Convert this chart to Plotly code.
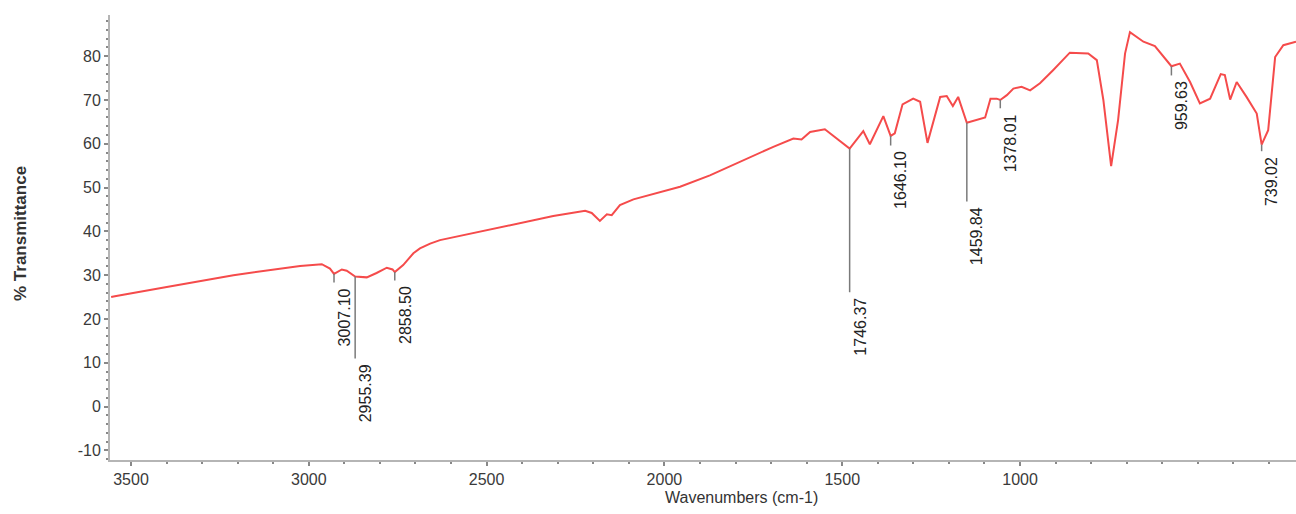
import plotly.graph_objects as go

# Spectrum (wavenumber cm-1, %T)
wavenumber = [3552, 3543, 3416, 3253, 3090, 3037, 3017, 3007.10, 2988, 2976, 2955.39, 2927, 2903,
              2878, 2864, 2858.50, 2838, 2813, 2797, 2772, 2748, 2634, 2552, 2471, 2393, 2377,
              2357, 2340, 2328, 2308, 2275, 2161, 2088, 2014, 1990, 1933, 1884, 1864, 1843,
              1807, 1746.37, 1713, 1697, 1664, 1646.10, 1636, 1617, 1591, 1574, 1556, 1525,
              1509, 1494, 1481, 1459.84, 1436, 1415, 1402, 1387, 1378.01, 1362, 1346, 1326,
              1305, 1281, 1249, 1208, 1163, 1142, 1126, 1107, 1090, 1073, 1061, 1028, 1000,
              979, 959.63, 939, 914, 890, 865, 839, 829, 816, 800, 776, 751, 739.02, 723,
              706, 686, 655]
transmittance = [25.0, 25.2, 27.3, 30.0, 32.1, 32.5, 31.5, 30.3, 31.3, 31.0, 29.7, 29.5, 30.5,
                 31.7, 31.3, 30.7, 32.3, 35.0, 36.1, 37.2, 38.0, 40.3, 41.9, 43.5, 44.7, 44.2,
                 42.4, 43.9, 43.7, 46.0, 47.3, 50.2, 52.8, 55.9, 57.0, 59.3, 61.2, 61.0, 62.7,
                 63.3, 58.9, 62.9, 59.9, 66.3, 61.8, 62.4, 69.0, 70.3, 69.6, 60.2, 70.7,
                 70.9, 68.6, 70.7, 64.8, 65.4, 66.0, 70.3, 70.3, 70.0, 71.1, 72.6, 73.0,
                 72.2, 73.8, 76.8, 80.8, 80.6, 79.1, 70.0, 54.9, 65.4, 80.6, 85.5, 83.3, 82.3,
                 79.8, 77.7, 78.3, 74.1, 69.2, 70.3, 75.9, 75.7, 70.1, 74.1, 70.7, 66.9, 59.8, 63.1,
                 79.8, 82.5, 83.3]

# Peak labels
peak_wn = [3007.10, 2955.39, 2858.50, 1746.37, 1646.10, 1459.84, 1378.01, 959.63, 739.02]
peak_labels = ["3007.10", "2955.39", "2858.50", "1746.37", "1646.10", "1459.84", "1378.01", "959.63", "739.02"]
peak_top = [30.3, 29.7, 30.7, 58.9, 61.8, 64.8, 70.0, 77.7, 59.8]
label_y = [27.9, 10.6, 28.4, 25.7, 59.2, 46.4, 67.7, 75.2, 57.9]

# Axis ticks
x_ticks = [3500, 3000, 2500, 2000, 1500, 1000]
y_ticks = [-10, 0, 10, 20, 30, 40, 50, 60, 70, 80]

FONT = "Liberation Sans, Arial, sans-serif"

# plot-area pixel box
L, R, T, B = 110, 1296, 15, 460
W, H = 1296, 514

def px_to_paper(px, py):
    return (px - L) / (R - L), (B - py) / (B - T)

fig = go.Figure()

# empty trace to activate the visible axis pair
fig.add_trace(go.Scatter(x=[None], y=[None], xaxis="x", yaxis="y", mode="markers",
                         hoverinfo="skip", showlegend=False))

fig.add_trace(go.Scatter(
    x=wavenumber, y=transmittance, mode="lines", xaxis="x2", yaxis="y",
    line=dict(color="rgb(245,75,75)", width=2), hoverinfo="skip", showlegend=False))

lx, ly = [], []
for w, t, b in zip(peak_wn, peak_top, label_y):
    lx += [w, w, None]
    ly += [t, b + 0.4, None]
fig.add_trace(go.Scatter(
    x=lx, y=ly, mode="lines", xaxis="x2", yaxis="y",
    line=dict(color="#7a7a7a", width=1.5), hoverinfo="skip", showlegend=False))

for w, b, lab in zip(peak_wn, label_y, peak_labels):
    fig.add_annotation(
        x=w, y=b, xref="x2", yref="y", text=lab, showarrow=False,
        textangle=-90, xanchor="center", yanchor="top", xshift=10, yshift=-2,
        font=dict(family=FONT, size=16, color="#222222"))

tx, ty = px_to_paper(20, 234)
fig.add_annotation(
    x=tx, y=ty, xref="paper", yref="paper", text="<b>% Transmittance</b>", showarrow=False,
    textangle=-90, xanchor="center", yanchor="middle",
    font=dict(family=FONT, size=17, color="#333333"))

tx, ty = px_to_paper(741, 497)
fig.add_annotation(
    x=tx, y=ty, xref="paper", yref="paper", text="Wavenumbers (cm-1)", showarrow=False,
    xanchor="center", yanchor="middle",
    font=dict(family=FONT, size=16, color="#333333"))

fig.update_layout(
    width=W, height=H,
    margin=dict(l=L, r=W - R, t=T, b=H - B),
    paper_bgcolor="white", plot_bgcolor="white",
    xaxis=dict(
        range=[3559, 224], tickvals=x_ticks, ticktext=[str(v) for v in x_ticks],
        showline=True, linecolor="#b5b5b5", linewidth=2, showgrid=False, zeroline=False,
        ticks="outside", ticklen=4, tickcolor="#888888", tickwidth=1.5,
        minor=dict(dtick=100, tick0=0, ticks="outside", ticklen=2, tickcolor="#888888", showgrid=False),
        tickfont=dict(family=FONT, size=16, color="#3a3a3a"), fixedrange=True),
    xaxis2=dict(
        range=[3554.8, 655.0], overlaying="x", anchor="y", visible=False,
        showgrid=False, zeroline=False),
    yaxis=dict(
        range=[-12.2, 89.4], tickvals=y_ticks, ticktext=[str(v) for v in y_ticks],
        showline=True, linecolor="#b5b5b5", linewidth=2,
        showgrid=False, zeroline=False, ticks="outside", ticklen=4, tickcolor="#888888", tickwidth=1.5,
        minor=dict(dtick=2, tick0=0, ticks="outside", ticklen=2, tickcolor="#888888", showgrid=False),
        tickfont=dict(family=FONT, size=16, color="#3a3a3a"), fixedrange=True),
)

fig.write_html("out.html")
